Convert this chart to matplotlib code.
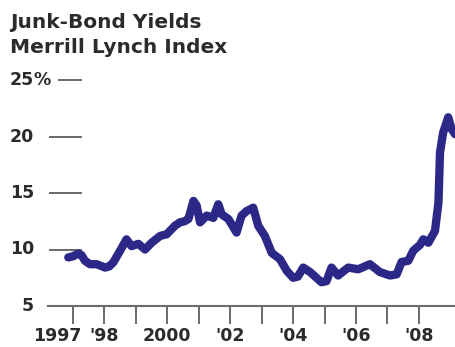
import matplotlib
matplotlib.use("Agg")
import matplotlib.pyplot as plt
import matplotlib.transforms as mtransforms

# Merrill Lynch high-yield index, percent (decimal year, yield)
dates = [1996.85, 1997.0, 1997.17, 1997.27, 1997.38, 1997.54, 1997.75, 1998.02,
         1998.15, 1998.28, 1998.5, 1998.7, 1998.86, 1999.08, 1999.29, 1999.5,
         1999.77, 1999.98, 2000.24, 2000.4, 2000.55, 2000.67, 2000.83, 2000.93,
         2001.04, 2001.25, 2001.46, 2001.62, 2001.73, 2001.94, 2002.2, 2002.36,
         2002.52, 2002.73, 2002.89, 2003.1, 2003.32, 2003.58, 2003.8, 2004.0,
         2004.15, 2004.32, 2004.54, 2004.9, 2005.06, 2005.22, 2005.43, 2005.75,
         2006.07, 2006.44, 2006.76, 2007.08, 2007.29, 2007.45, 2007.66, 2007.82,
         2008.03, 2008.14, 2008.3, 2008.51, 2008.62, 2008.67, 2008.77, 2008.93,
         2009.04, 2009.15]
yields = [9.3, 9.4, 9.65, 9.5, 9.0, 8.7, 8.7, 8.4,
          8.5, 8.85, 9.9, 10.9, 10.3, 10.5, 10.0, 10.6,
          11.2, 11.35, 12.1, 12.4, 12.5, 12.7, 14.3, 13.9,
          12.4, 13.0, 12.8, 14.0, 13.1, 12.7, 11.5, 13.0,
          13.4, 13.7, 12.1, 11.2, 9.7, 9.15, 8.1, 7.5,
          7.6, 8.4, 8.0, 7.1, 7.2, 8.4, 7.7, 8.4,
          8.25, 8.7, 8.0, 7.7, 7.8, 8.9, 9.0, 9.9,
          10.4, 10.9, 10.6, 11.65, 14.15, 18.6, 20.35, 21.7,
          20.65, 20.2]

year_ticks = list(range(1997, 2009))
year_labels = ["1997", "'98", "", "2000", "", "'02", "", "'04", "", "'06", "", "'08"]
y_levels = [5, 10, 15, 20, 25]
y_labels = ["5", "10", "15", "20", "25"]

plt.rcParams['font.family'] = ['DejaVu Sans']
text_col = '#2b2b2b'
rule_col = '#6a6a6a'
line_col = '#2c2887'

W, H = 456, 347
fig = plt.figure(figsize=(W / 100, H / 100), dpi=100)
ax = fig.add_axes([48 / W, 1 - 306 / H, 408 / W, 226 / H])

ax.plot(dates, yields, color=line_col, lw=6.0, solid_capstyle='round',
        solid_joinstyle='round', clip_on=False, zorder=5)

ax.set_xlim(1997 - 25 / 31.45, 1997 + 383 / 31.45)
ax.set_ylim(5, 25)

for s in ['top', 'right', 'left']:
    ax.spines[s].set_visible(False)
ax.spines['bottom'].set_color(rule_col)
ax.spines['bottom'].set_linewidth(1.5)

ax.set_yticks([])
ax.set_xticks(year_ticks)
ax.set_xticklabels(year_labels, fontsize=12.5, fontweight='bold', color=text_col)
ax.tick_params(axis='x', direction='out', length=13, width=1.4,
               color=rule_col, pad=2)

# nudge the first year label left so it clears '98
lbl = ax.get_xticklabels()[0]
lbl.set_transform(lbl.get_transform() +
                  mtransforms.ScaledTranslation(-15.5 / 100, 0, fig.dpi_scale_trans))

# value labels with short rules on the left
trans = mtransforms.blended_transform_factory(ax.transAxes, ax.transData)
for v, t in zip(y_levels, y_labels):
    ax.text(-14 / 408, v, t, transform=trans, ha='right', va='center',
            fontsize=12.5, fontweight='bold', color=text_col, clip_on=False)
    if v == 5:
        continue
    x0 = 11 / 408 if v == 25 else 2 / 408
    ax.plot([x0, 33 / 408], [v, v], transform=trans, color=rule_col,
            lw=1.4, clip_on=False, zorder=1)
ax.text(-14 / 408, 25, "%", transform=trans, ha='left', va='center',
        fontsize=12.5, fontweight='bold', color=text_col, clip_on=False)

fig.text(10 / W, 1 - 28 / H, "Junk-Bond Yields", ha='left', va='baseline',
         fontsize=14.5, fontweight='bold', color=text_col)
fig.text(10 / W, 1 - 53 / H, "Merrill Lynch Index", ha='left', va='baseline',
         fontsize=14.5, fontweight='bold', color=text_col)

fig.savefig("out.png", dpi=100)
